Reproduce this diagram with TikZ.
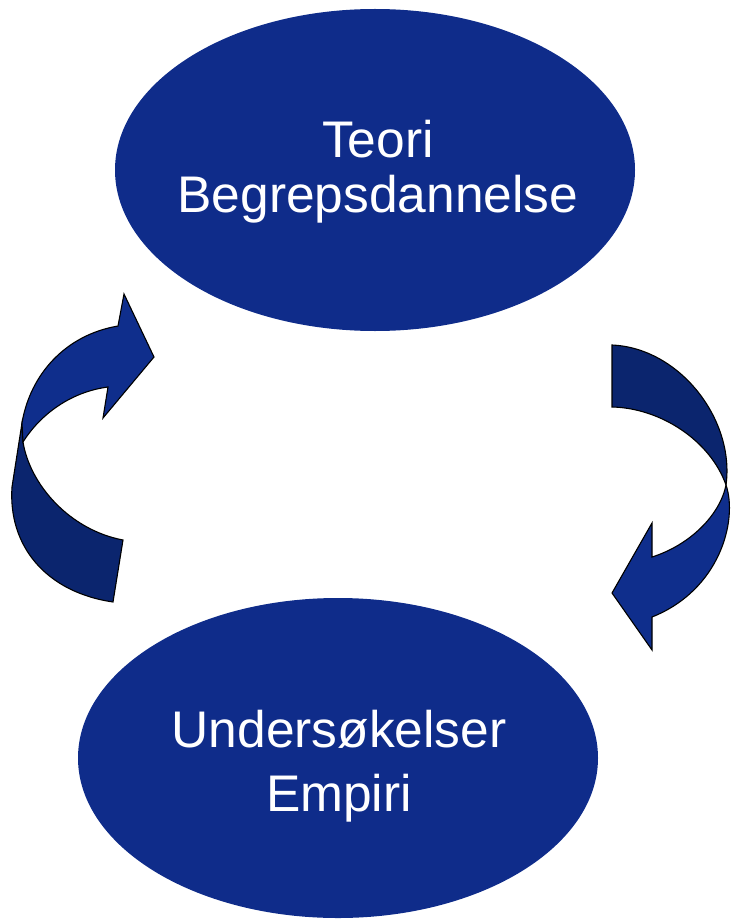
\documentclass[tikz,border=0pt]{standalone}
\usepackage{fontspec}
\setmainfont{Liberation Sans}
\usetikzlibrary{shapes.geometric}
\definecolor{ellblue}{RGB}{15,44,138}
\definecolor{darkband}{RGB}{11,37,110}
\definecolor{lightband}{RGB}{15,46,140}
\begin{document}
\begin{tikzpicture}[x=1pt,y=-1pt,
  ellbox/.style={ellipse, fill=ellblue, draw=none, inner sep=0pt},
  lbl/.style={text=white, align=center, inner sep=0pt},
  lightpart/.style={fill=lightband, draw=black, line width=1.1pt},
  darkpart/.style={fill=darkband, draw=black, line width=1.1pt}]
\useasboundingbox (0,0) rectangle (737,920);

% ellipses
\node[ellbox, minimum width=520pt, minimum height=322pt] (teori) at (375,170) {};
\node[ellbox, minimum width=520pt, minimum height=320pt] (empiri) at (338,758) {};

\node[lbl, anchor=base, font=\fontsize{51.5}{55}\selectfont] (teoritxt) at (378,212) {Teori\\Begrepsdannelse};
\node[lbl, anchor=base, font=\fontsize{51.5}{64}\selectfont] (empiritxt) at (339,811) {Undersøkelser\\Empiri};

% left arrow (from bottom up to the top ellipse)
\coordinate (LA) at (22,423);
\coordinate (LG) at (23,442);
\draw[darkpart] (LG) .. controls (30,485) and (70,530) .. (123,540)
  -- (113,602) .. controls (45,592) and (8,545) .. (12,487) -- (LA) -- cycle;
\draw[lightpart] (LA) .. controls (30,375) and (65,335) .. (118,326)
  -- (124,294) -- (154,357) -- (103,418) -- (108,387)
  .. controls (70,392) and (40,415) .. (LG) -- cycle;

% right arrow (from top down to the bottom ellipse)
\coordinate (RT) at (726,485);
\draw[darkpart] (612,345) .. controls (680,348) and (735,420) .. (RT)
  .. controls (710,440) and (660,408) .. (612,407) -- cycle;
\draw[lightpart] (RT) .. controls (738,520) and (720,590) .. (652,617)
  -- (652,650) -- (612,593) -- (652,523) -- (652,557)
  .. controls (690,545) and (720,515) .. (RT) -- cycle;
\end{tikzpicture}
\end{document}
